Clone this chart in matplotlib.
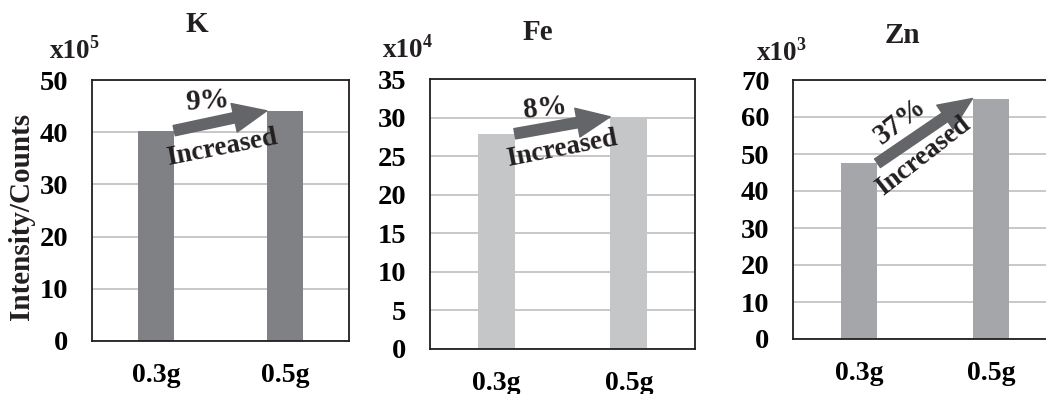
import matplotlib
matplotlib.use("Agg")
import matplotlib.pyplot as plt

plt.rcParams['font.family'] = ['Liberation Serif', 'DejaVu Serif']
plt.rcParams['font.weight'] = 'bold'

# ---- data ----
categories = ["0.3g", "0.5g"]
elements = ["K", "Fe", "Zn"]
exponents = ["5", "4", "3"]
k_values = [40.3, 44.1]
fe_values = [27.9, 30.1]
zn_values = [47.5, 65.0]
ymax = [50, 35, 70]
ystep = [10, 5, 10]
pct_labels = ["9%", "8%", "37%"]
bar_colors = ["#808185", "#c5c6c8", "#a5a6a9"]
arrow_color = "#646568"

series = [k_values, fe_values, zn_values]

W, H = 1046, 394
fig = plt.figure(figsize=(W / 100, H / 100), dpi=100)

def px_rect(l, t, r, b):
    return [l / W, (H - b) / H, (r - l) / W, (b - t) / H]

axes_px = [(92, 80, 349, 341), (430, 79, 695, 349), (793, 80, 1057, 339)]
title_px = [(197, 32), (538, 40), (902, 43)]
exp_px = [(50, 58), (383, 57), (757, 60)]
# annotation text positions (data coords) and rotations
pct_pos = [(0.40, 46.0, 4), (0.37, 31.2, 6), (0.31, 59.0, 38)]
inc_pos = [(0.51, 37.0, 11), (0.50, 26.0, 11), (0.49, 49.5, 38)]

bw = 0.28
for i, vals in enumerate(series):
    ax = fig.add_axes(px_rect(*axes_px[i]))
    xs = list(range(len(categories)))
    ax.bar(xs, vals, width=bw, color=bar_colors[i], zorder=2)
    ax.set_xlim(-0.5, 1.5)
    ax.set_ylim(0, ymax[i])
    ticks = list(range(0, ymax[i] + 1, ystep[i]))
    ax.set_yticks(ticks)
    ax.set_yticklabels([str(t) for t in ticks])
    ax.set_xticks(xs)
    ax.set_xticklabels(categories)
    ax.tick_params(axis='y', length=0, pad=17, labelsize=20.5)
    ax.tick_params(axis='x', length=0, pad=16, labelsize=20)
    ax.yaxis.grid(True, color="#bfbfbf", linewidth=1.2, zorder=0)
    ax.set_axisbelow(True)
    for sp in ax.spines.values():
        sp.set_color("#231f20")
        sp.set_linewidth(1.3)
    # arrow from top of first bar to top of second bar
    ax.annotate("", xy=(1 - bw / 2, vals[1]), xytext=(0 + bw / 2, vals[0]),
                arrowprops=dict(arrowstyle="simple,head_length=2.4,head_width=2.1,tail_width=0.75",
                                color=arrow_color, shrinkA=0, shrinkB=0,
                                mutation_scale=10), zorder=4)
    px, py, pr = pct_pos[i]
    ax.text(px, py, pct_labels[i], fontsize=21, fontweight='bold', rotation=pr,
            ha='center', va='center', color="#231f20", zorder=5,
            rotation_mode='anchor')
    ix, iy, ir = inc_pos[i]
    ax.text(ix, iy, "Increased", fontsize=19.5, fontweight='bold', rotation=ir,
            ha='center', va='center', color="#231f20", zorder=5,
            rotation_mode='anchor')
    # title
    tx, ty = title_px[i]
    fig.text(tx / W, 1 - ty / H, elements[i], fontsize=21, fontweight='bold',
             ha='center', va='baseline', color="#231f20")
    ex, ey = exp_px[i]
    t = fig.text(ex / W, 1 - ey / H, "x10", fontsize=19.5, fontweight='bold',
                 ha='left', va='baseline', color="#231f20")
    fig.canvas.draw()
    bb = t.get_window_extent()
    fig.text((bb.x1 - 1) / W, 1 - (ey - 10) / H, exponents[i], fontsize=13,
             fontweight='bold', ha='left', va='baseline', color="#231f20")

fig.text(22 / W, 1 - 216 / H, "Intensity/Counts", fontsize=21, fontweight='bold',
         rotation=90, ha='center', va='center', color="#231f20")

fig.savefig("out.png", dpi=100)
